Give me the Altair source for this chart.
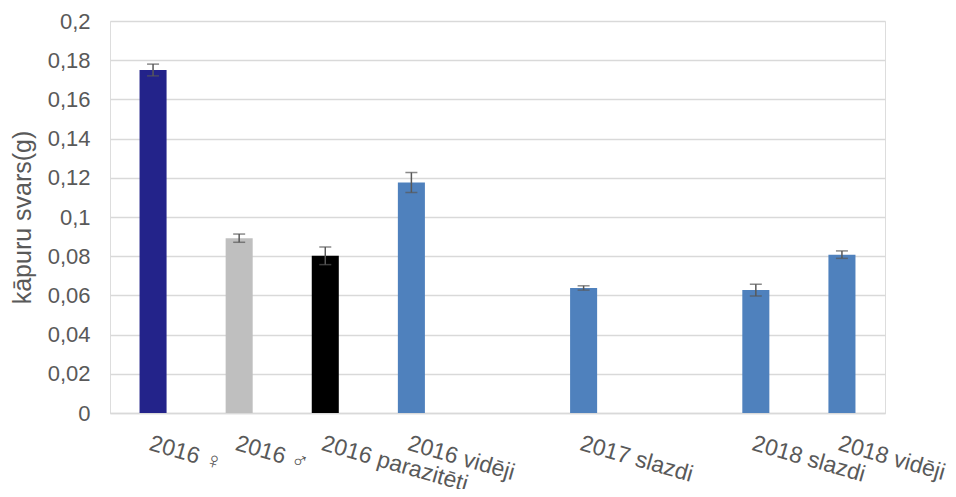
import altair as alt
import pandas as pd

categories = ["2016 ♀", "2016 ♂", "2016 parazitēti", "2016 vidēji", " ", "2017 slazdi", "  ", "2018 slazdi", "2018 vidēji"]
bar_cats = ["2016 ♀", "2016 ♂", "2016 parazitēti", "2016 vidēji", "2017 slazdi", "2018 slazdi", "2018 vidēji"]
values = [0.175, 0.0892, 0.0802, 0.1176, 0.0638, 0.0627, 0.0808]
errors = [0.003, 0.0021, 0.0045, 0.0051, 0.0011, 0.003, 0.0019]
colors = ["#23238A", "#BFBFBF", "#000000", "#4F81BD", "#4F81BD", "#4F81BD", "#4F81BD"]
y_ticks = [0, 0.02, 0.04, 0.06, 0.08, 0.1, 0.12, 0.14, 0.16, 0.18, 0.2]

df = pd.DataFrame({"cat": bar_cats, "val": values, "err": errors, "col": colors})
df["lo"] = df["val"] - df["err"]
df["hi"] = df["val"] + df["err"]

xscale = alt.Scale(domain=categories, paddingInner=0.686, paddingOuter=0.343)
yscale = alt.Scale(domain=[0, 0.2], nice=False)

x_axis = alt.Axis(title=None, labelAngle=16, labelAlign="left", labelBaseline="top",
                  labelPadding=19, labelFontSize=23, labelColor="#595959",
                  labelFont="Liberation Sans, DejaVu Sans", ticks=False, domain=True,
                  domainColor="#D9D9D9", domainWidth=1.5, grid=False,
                  labelOverlap=False, labelBound=False)
y_axis = alt.Axis(title="kāpuru svars(g)", titleFontSize=25, titleColor="#595959",
                  titleFont="Liberation Sans", titleFontWeight="normal", titlePadding=12,
                  labelFontSize=22, labelColor="#595959", labelFont="Liberation Sans",
                  values=y_ticks, tickCount=11,
                  labelExpr="replace(format(datum.value, '.2~f'), '.', ',')",
                  labelOverlap=False, labelFlush=False,
                  ticks=False, domain=False, grid=True, gridColor="#D9D9D9",
                  gridWidth=1.5, labelPadding=20)

base = alt.Chart(df)
X = alt.X("cat:N", scale=xscale, axis=x_axis, sort=categories)

bars = base.mark_bar().encode(
    x=X,
    y=alt.Y("val:Q", scale=yscale, axis=y_axis),
    color=alt.Color("col:N", scale=None),
)

rules = base.mark_rule(color="#595959", strokeWidth=1.5).encode(
    x=X,
    y=alt.Y("lo:Q", scale=yscale, axis=y_axis),
    y2="hi:Q",
)

cap_lo = base.mark_tick(color="#595959", thickness=1.5, size=12, orient="horizontal").encode(
    x=X,
    y=alt.Y("lo:Q", scale=yscale, axis=y_axis),
)
cap_hi = base.mark_tick(color="#595959", thickness=1.5, size=12, orient="horizontal").encode(
    x=X,
    y=alt.Y("hi:Q", scale=yscale, axis=y_axis),
)

chart = alt.layer(bars, rules, cap_lo, cap_hi).properties(
    width=775, height=392,
    autosize=alt.AutoSizeParams(type="none"),
    padding={"left": 102, "top": 13, "right": 63, "bottom": 76},
).configure_view(stroke=None).configure(background="white")

chart.save("out.html", embed_options={"renderer": "svg", "actions": False})
